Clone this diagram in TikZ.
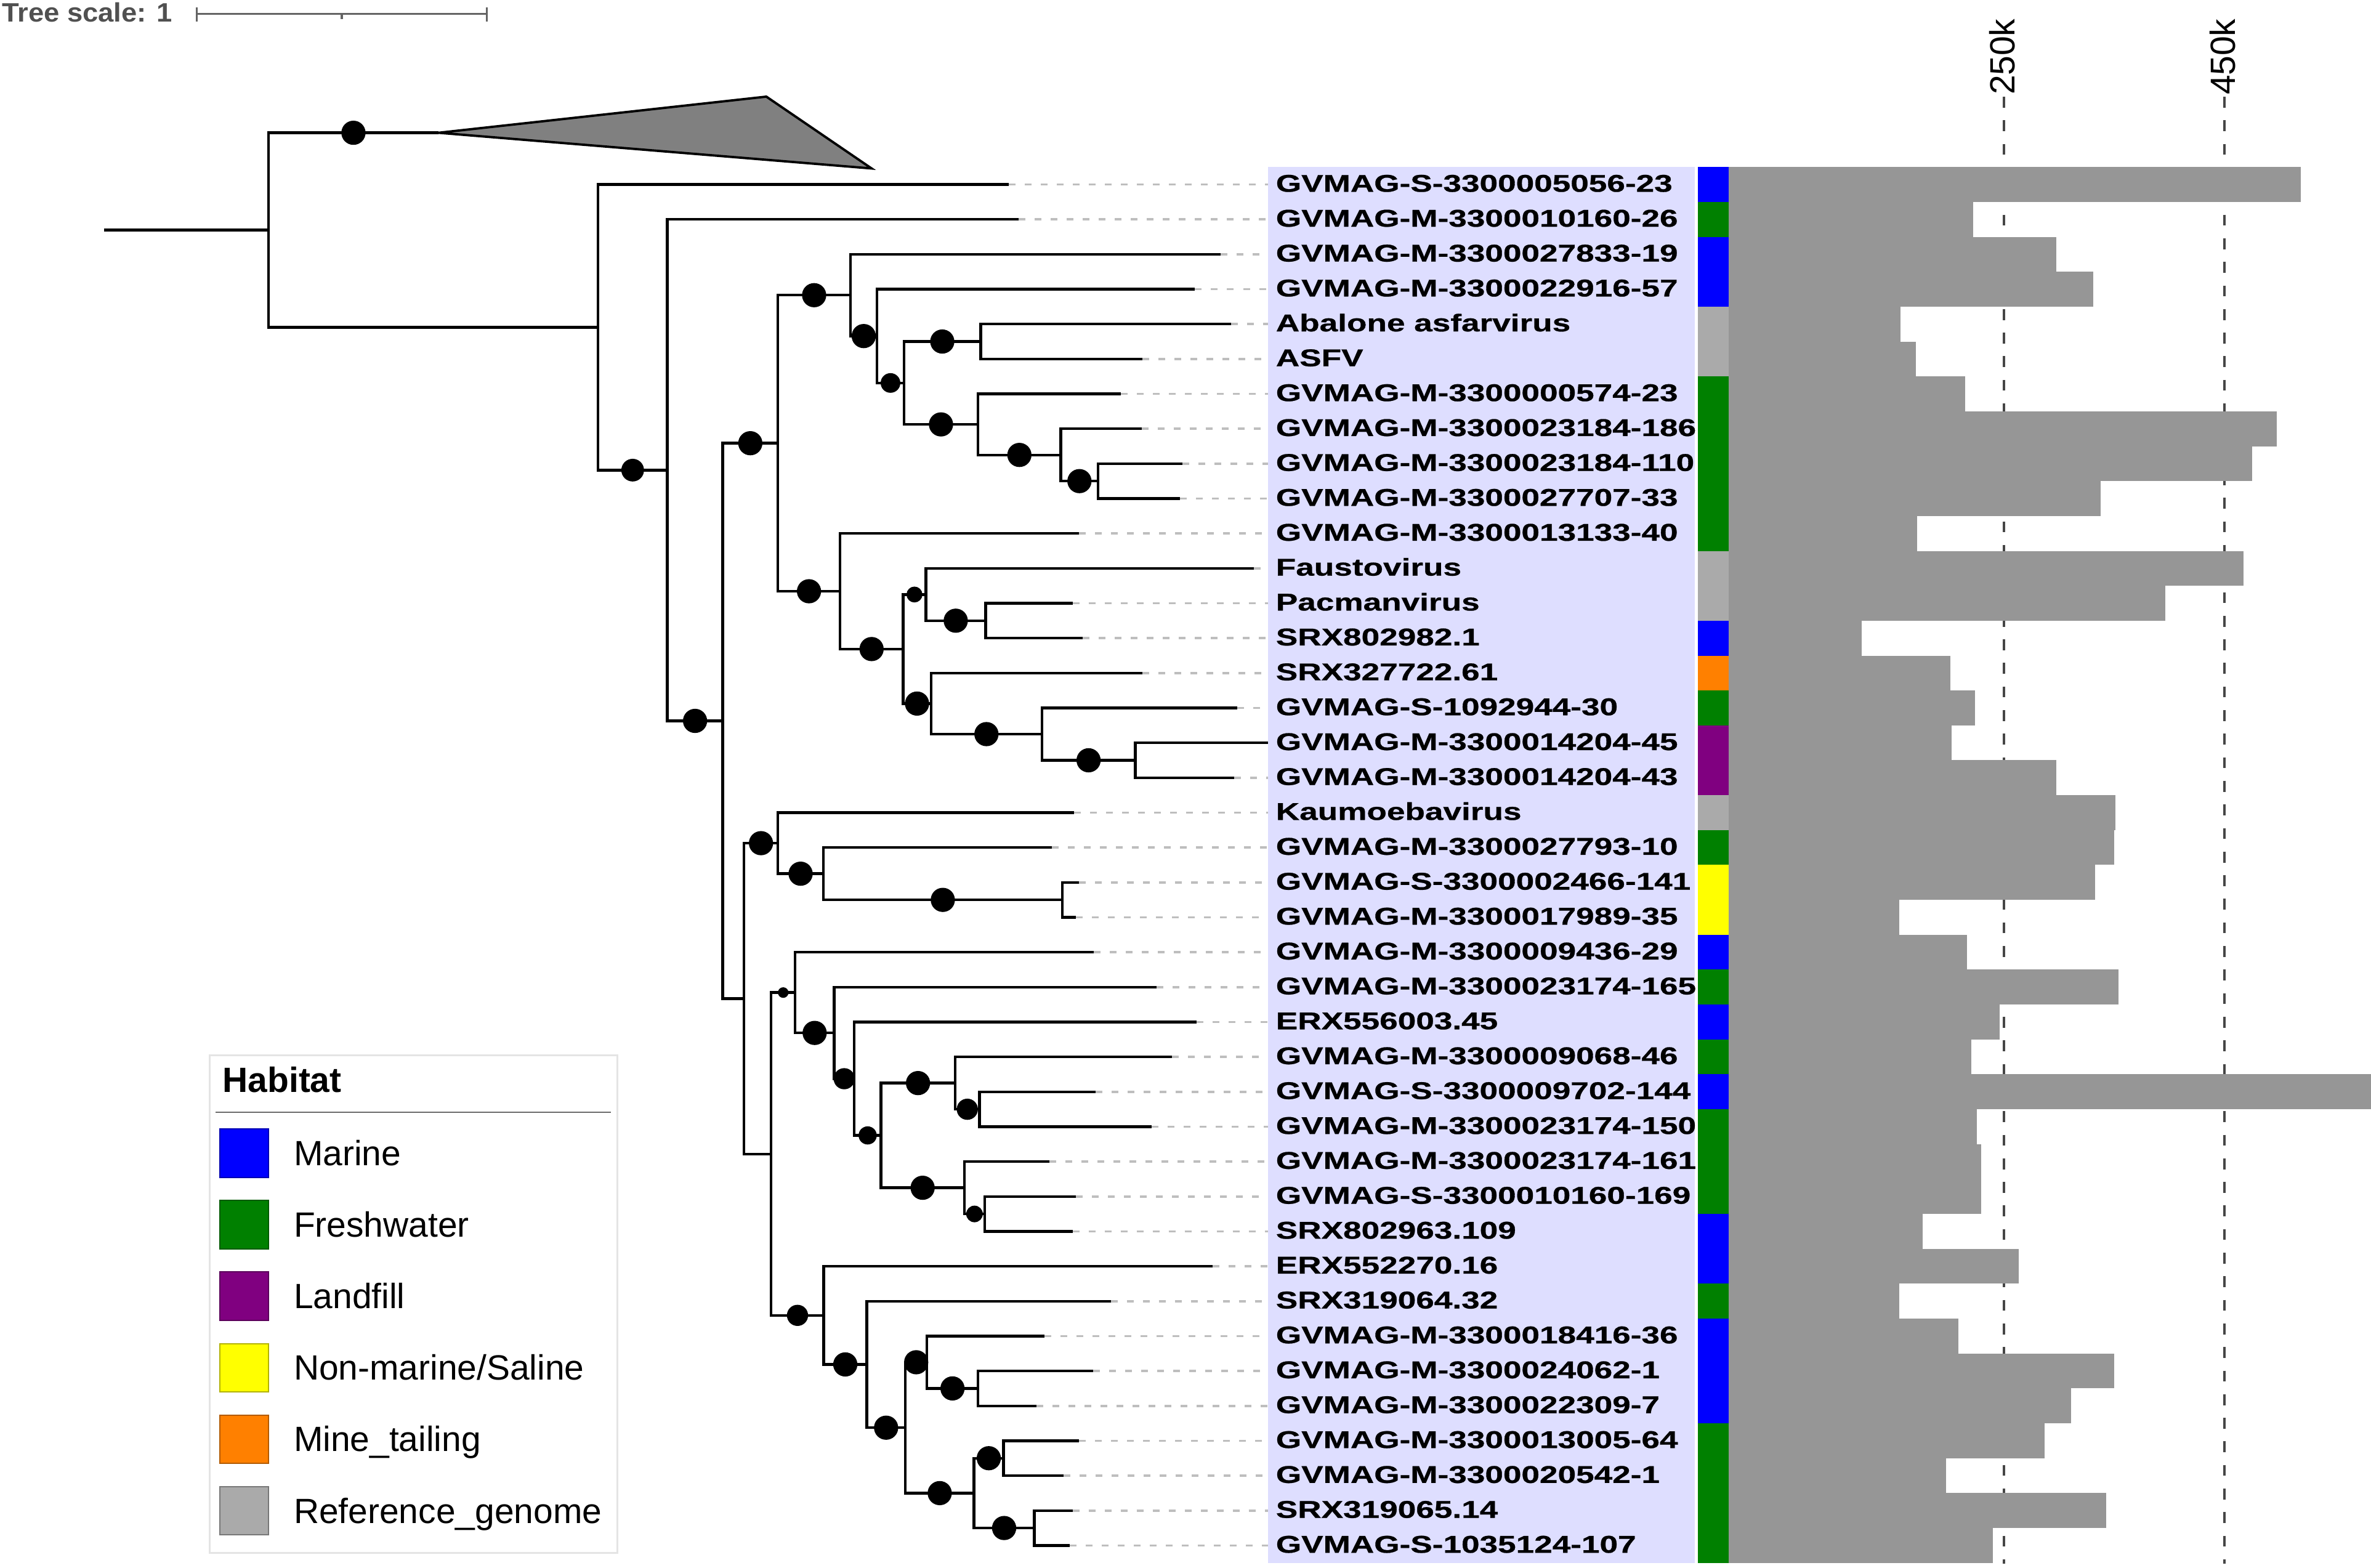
\documentclass[tikz,border=0pt]{standalone}
\usepackage{fontspec}
\setmainfont{Liberation Sans}
\newfontfamily\labfont[FakeBold=0.6]{Liberation Sans Bold}
\usetikzlibrary{calc}
\definecolor{mar}{RGB}{0,0,255}
\definecolor{fre}{RGB}{0,128,0}
\definecolor{lan}{RGB}{128,0,128}
\definecolor{non}{RGB}{255,255,0}
\definecolor{mine}{RGB}{255,128,0}
\definecolor{refg}{RGB}{170,170,170}
\definecolor{lav}{RGB}{222,222,255}
\definecolor{barc}{RGB}{150,150,150}
\definecolor{ldr}{RGB}{190,190,190}
\definecolor{axc}{RGB}{70,70,70}
\definecolor{clad}{RGB}{128,128,128}
\definecolor{scl}{RGB}{100,100,100}
\definecolor{lgb}{RGB}{228,228,228}
\tikzset{
  tree/.style={line width=0.044cm, line join=miter, draw=black},
  leader/.style={line width=0.035cm, draw=ldr, dash pattern=on 0.11cm off 0.15cm},
  dot/.style={circle, fill=black, inner sep=0pt},
  lab/.style={anchor=base west, inner sep=0pt, font=\labfont\fontsize{11.2}{12}\selectfont},
  axline/.style={line width=0.038cm, draw=axc, dash pattern=on 0.177cm off 0.206cm},
  axlab/.style={rotate=90, anchor=west, inner sep=0pt, font=\fontsize{16.2}{18}\selectfont},
  legtxt/.style={anchor=base west, inner sep=0pt, font=\fontsize{16.2}{18}\selectfont},
  swatch/.style={line width=0.02cm},
  scalebar/.style={line width=0.032cm, draw=scl}
}
\newcommand\tn[4]{%
  \coordinate (#1x) at (#2,0);
  \coordinate (#1m) at ($(#3)!0.5!(#4)$);
  \coordinate (#1) at (#1m -| #1x);
  \draw[tree] (#3) -- (#3 -| #1) -- (#4 -| #1) -- (#4);
}
\newcommand\dt[3]{\node[dot, minimum size=#3*0.024554cm] (d#2) at ($(#2 -| #1)!0.5!(#2)$) {};}
\begin{document}
\begin{tikzpicture}[x=0.024554cm, y=-0.024554cm]
\useasboundingbox (0,0) rectangle (1568,1036.9);
% label background
\fill[lav] (838.6,110.46) rectangle (1120.6,1033.5);
\coordinate (boxL) at (838.6,0);
% axis lines
\coordinate (a1t) at (1325.3,64);
\coordinate (a1b) at (1325.3,1034);
\coordinate (a2t) at (1471.2,64);
\coordinate (a2b) at (1471.2,1034);
\draw[axline] (a1t) -- (a1b);
\draw[axline] (a2t) -- (a2b);
\node[axlab] (ax1) at (1324,63) {250k};
\node[axlab] (ax2) at (1470,63) {450k};
% leaves
\foreach \i/\xe/\hc/\bw/\name in {
1/667.1/mar/1521.5/GVMAG-S-3300005056-23,
2/673.8/fre/1305/GVMAG-M-3300010160-26,
3/807.2/mar/1360/GVMAG-M-3300027833-19,
4/790.3/mar/1384.5/GVMAG-M-3300022916-57,
5/814/refg/1257/Abalone asfarvirus,
6/755.5/refg/1267/ASFV,
7/741.3/fre/1299.5/GVMAG-M-3300000574-23,
8/754.9/fre/1505.5/GVMAG-M-3300023184-186,
9/781.9/fre/1489.5/GVMAG-M-3300023184-110,
10/780.5/fre/1389/GVMAG-M-3300027707-33,
11/713.6/fre/1268/GVMAG-M-3300013133-40,
12/829.2/refg/1483.5/Faustovirus,
13/709.3/refg/1432/Pacmanvirus,
14/716/mar/1231/SRX802982.1,
15/755.5/mine/1290/SRX327722.61,
16/818.3/fre/1306/GVMAG-S-1092944-30,
17/838.6/lan/1290.5/GVMAG-M-3300014204-45,
18/816.3/lan/1360/GVMAG-M-3300014204-43,
19/710.3/refg/1399/Kaumoebavirus,
20/695.8/fre/1398/GVMAG-M-3300027793-10,
21/713.6/non/1385.5/GVMAG-S-3300002466-141,
22/711.6/non/1256/GVMAG-M-3300017989-35,
23/723.4/mar/1301/GVMAG-M-3300009436-29,
24/765/fre/1401/GVMAG-M-3300023174-165,
25/791.3/mar/1322.5/ERX556003.45,
26/775.1/fre/1303.5/GVMAG-M-3300009068-46,
27/724.5/mar/1570/GVMAG-S-3300009702-144,
28/761.6/fre/1307.5/GVMAG-M-3300023174-150,
29/694.1/fre/1310/GVMAG-M-3300023174-161,
30/711.6/fre/1310/GVMAG-S-3300010160-169,
31/709.3/mar/1271.5/SRX802963.109,
32/802.1/mar/1335/ERX552270.16,
33/734.6/fre/1256/SRX319064.32,
34/690.7/mar/1295/GVMAG-M-3300018416-36,
35/722.8/mar/1398/GVMAG-M-3300024062-1,
36/685.6/mar/1369.5/GVMAG-M-3300022309-7,
37/713.6/fre/1352/GVMAG-M-3300013005-64,
38/703.5/fre/1287/GVMAG-M-3300020542-1,
39/709.3/fre/1393/SRX319065.14,
40/707.6/fre/1318/GVMAG-S-1035124-107}{
  \coordinate (L\i) at (\xe,{122+(\i-1)*23.0769});
  \draw[leader] (L\i) -- (L\i -| boxL);
  \node[lab] (t\i) at (843.5,{126.8+(\i-1)*23.0769}) {\scalebox{1.35}[1]{\name}};
  \fill[fill=\hc] (1122.8,{110.46+(\i-1)*23.0769}) rectangle (1143.2,{110.46+\i*23.0769});
  \fill[fill=barc] (1143,{110.46+(\i-1)*23.0769}) rectangle (\bw,{110.46+\i*23.0769});
}
% collapsed clade
\coordinate (CL) at (290,87.8);
\coordinate (CLa) at (506.8,63.9);
\coordinate (CLb) at (576.4,111.4);
\filldraw[fill=clad, draw=black, line width=0.038cm, line join=miter] (CL) -- (CLa) -- (CLb) -- cycle;
% tree
\tn{A7}{726.2}{L9}{L10}
\tn{A6}{701.5}{L8}{A7}
\tn{A5}{646.8}{L7}{A6}
\tn{A4}{648.5}{L5}{L6}
\tn{A3}{597.8}{A4}{A5}
\tn{A2}{580}{L4}{A3}
\tn{A}{562.4}{L3}{A2}
\tn{B5}{651.8}{L13}{L14}
\tn{B3}{612.3}{L12}{B5}
\tn{B7}{750.8}{L17}{L18}
\tn{B6}{689}{L16}{B7}
\tn{B4}{615.7}{L15}{B6}
\tn{B2}{597.2}{B3}{B4}
\tn{B}{555.6}{L11}{B2}
\tn{N4}{514.4}{A}{B}
\tn{C4}{702.5}{L21}{L22}
\tn{C3}{544.5}{L20}{C4}
\tn{C1}{514.4}{L19}{C3}
\tn{D7}{647.8}{L27}{L28}
\tn{D5}{631.6}{L26}{D7}
\tn{D8}{651.2}{L30}{L31}
\tn{D6}{637.7}{L29}{D8}
\tn{D4}{582.6}{D5}{D6}
\tn{D3}{565}{L25}{D4}
\tn{D2}{551.6}{L24}{D3}
\tn{D}{525.9}{L23}{D2}
\tn{E6}{646.8}{L35}{L36}
\tn{E4}{613}{L34}{E6}
\tn{E7}{663.7}{L37}{L38}
\tn{E8}{684}{L39}{L40}
\tn{E5}{644.1}{E7}{E8}
\tn{E3}{598.8}{E4}{E5}
\tn{E2}{573.2}{L33}{E3}
\tn{E}{544.8}{L32}{E2}
\tn{C2}{510}{D}{E}
\tn{N17}{492.1}{C1}{C2}
\tn{N3}{478}{N4}{N17}
\tn{N2}{441.3}{L2}{N3}
\tn{N1}{395.5}{L1}{N2}
\tn{R}{177.5}{CL}{N1}
\coordinate (R0) at (69,0);
\draw[tree] (R0 |- R) -- (R);
% support dots
\dt{R}{CL}{16}
\dt{N1}{N2}{15}
\dt{N2}{N3}{16}
\dt{N3}{N4}{16}
\dt{N4}{A}{16}
\dt{A}{A2}{16}
\dt{A2}{A3}{13}
\dt{A3}{A4}{16}
\dt{A3}{A5}{16}
\dt{A5}{A6}{16}
\dt{A6}{A7}{16}
\dt{N4}{B}{16}
\dt{B}{B2}{16}
\dt{B2}{B3}{10.5}
\dt{B3}{B5}{16}
\dt{B2}{B4}{16}
\dt{B4}{B6}{16}
\dt{B6}{B7}{16}
\dt{N17}{C1}{16}
\dt{C1}{C3}{16}
\dt{C3}{C4}{16}
\dt{C2}{D}{7}
\dt{D}{D2}{16}
\dt{D2}{D3}{14}
\dt{D3}{D4}{12}
\dt{D4}{D5}{16}
\dt{D5}{D7}{14}
\dt{D4}{D6}{16}
\dt{D6}{D8}{11}
\dt{C2}{E}{14}
\dt{E}{E2}{16}
\dt{E2}{E3}{16}
\dt{E3}{E4}{16}
\dt{E4}{E6}{16}
\dt{E3}{E5}{16}
\dt{E5}{E7}{16}
\dt{E5}{E8}{16}
% tree scale
\node[anchor=base west, inner sep=0pt, text={rgb,255:red,80;green,80;blue,80}, font=\bfseries\fontsize{12.3}{14}\selectfont] (tsc) at (1,14.6) {\scalebox{1.05}[1]{Tree scale: 1}};
\coordinate (s1) at (130,9);
\coordinate (s2) at (322,9);
\coordinate (s3) at (226,9);
\draw[scalebar] (s1) -- (s2);
\draw[scalebar] ([yshift=0.105cm]s1) -- ([yshift=-0.125cm]s1);
\draw[scalebar] ([yshift=0.105cm]s2) -- ([yshift=-0.125cm]s2);
\draw[scalebar] (s3) -- ([yshift=-0.085cm]s3);
% legend
\draw[draw=lgb, line width=0.03cm] (138.5,697.7) rectangle (408.3,1027);
\node[anchor=base west, inner sep=0pt, font=\bfseries\fontsize{16.2}{18}\selectfont] (lgt) at (147,722.2) {Habitat};
\coordinate (lg1) at (142.5,735.5);
\coordinate (lg2) at (404,735.5);
\draw[line width=0.028cm, draw={rgb,255:red,106;green,106;blue,106}] (lg1) -- (lg2);
\filldraw[swatch, fill=mar, draw=mar!70!black] (145.3,746.6) rectangle (177.6,778.6);
\node[legtxt] (lg-mar) at (194,770.7) {Marine};
\filldraw[swatch, fill=fre, draw=fre!70!black] (145.3,793.9) rectangle (177.6,825.9);
\node[legtxt] (lg-fre) at (194,818) {Freshwater};
\filldraw[swatch, fill=lan, draw=lan!70!black] (145.3,841.2) rectangle (177.6,873.2);
\node[legtxt] (lg-lan) at (194,865.3) {Landfill};
\filldraw[swatch, fill=non, draw=non!70!black] (145.3,888.5) rectangle (177.6,920.5);
\node[legtxt] (lg-non) at (194,912.6) {Non-marine/Saline};
\filldraw[swatch, fill=mine, draw=mine!70!black] (145.3,935.8) rectangle (177.6,967.8);
\node[legtxt] (lg-min) at (194,959.9) {Mine\_tailing};
\filldraw[swatch, fill=refg, draw=refg!70!black] (145.3,983.1) rectangle (177.6,1015.1);
\node[legtxt] (lg-ref) at (194,1007.2) {Reference\_genome};
\end{tikzpicture}
\end{document}
